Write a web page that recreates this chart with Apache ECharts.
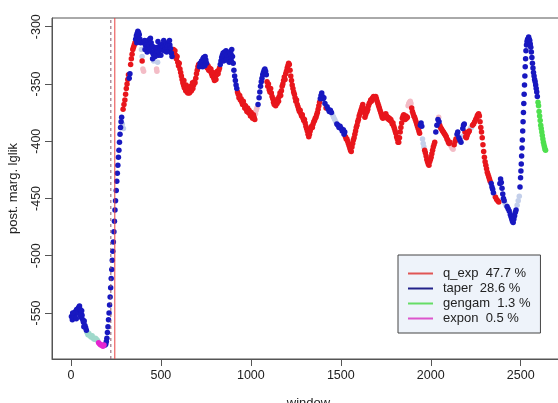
<!DOCTYPE html>
<html><head><meta charset="utf-8">
<script src="https://cdn.jsdelivr.net/npm/echarts@6/dist/echarts.min.js"></script>
<style>html,body{margin:0;padding:0;background:#fff}#c{width:558px;height:403px}</style>
</head><body><div id="c"></div>
<script>
// ---- data (window, post. marg. lglik) ----
var xTicks = [0, 500, 1000, 1500, 2000, 2500];
var yTicks = [-550, -500, -450, -400, -350, -300];
var yRange = [-590.2, -292.4];
var changepoints = [222, 244];
var legendNames = ['q_exp', 'taper', 'gengam', 'expon'];
var legendLabels = ['q_exp  47.7 %', 'taper  28.6 %', 'gengam  1.3 %', 'expon  0.5 %'];

var taper = [
[3,-553],[8,-556],[12,-554],[16,-551],[20,-553],[24,-549],[28,-550],[32,-547],[36,-549],[40,-546],[44,-545],[48,-544],[52,-547],[55,-551],[58,-554],[62,-552],[66,-556],[70,-558],[74,-557],[78,-561],[82,-563],[86,-565],
[10,-550],[30,-555],[50,-552],[60,-548],[72,-562],
[190,-578],[194,-577],[197,-575],[200,-572],[203,-567],[206,-562],[209,-556],[212,-550],[215,-543],[218,-536],[221,-528],[224,-520],[227,-512],[230,-504],[233,-496],[236,-488],[239,-479],[242,-470],[245,-460],[248,-452],[252,-443],[255,-435],[258,-428],[261,-421],[264,-414],[267,-408],[270,-401],[273,-394],[276,-388],[279,-383],[282,-379],
[324,-345],[328,-341],
[360,-311],[364,-308],[368,-306],[372,-304],[376,-305],[380,-307],[384,-311],[388,-314],[366,-314],[378,-312],
[406,-314],[410,-312],[414,-316],[418,-313],[422,-318],[426,-315],[430,-312],[434,-316],[438,-311],[442,-310],[446,-314],[450,-322],[454,-328],[458,-324],[462,-318],[466,-321],[470,-319],[474,-324],[478,-322],[482,-318],[486,-325],[490,-322],[494,-317],[498,-320],[502,-316],[506,-319],[510,-315],[514,-318],[518,-321],[522,-317],[526,-319],[530,-315],[534,-318],[538,-314],[542,-317],[546,-320],[550,-316],[554,-319],[558,-323],[562,-326],
[412,-320],[424,-322],[436,-320],[452,-317],[468,-326],[484,-313],[500,-325],[516,-312],[532,-322],[548,-312],
[714,-335],[718,-332],[722,-334],[726,-330],[730,-331],[734,-328],[738,-327],[742,-330],[746,-326],[750,-329],[754,-332],[732,-335],[744,-334],
[830,-333],[834,-330],[838,-327],[842,-325],[846,-323],[850,-326],[854,-322],[858,-325],[862,-321],[866,-324],[870,-327],[874,-323],[878,-326],[882,-322],[886,-328],[890,-324],[894,-320],[898,-326],[902,-332],[906,-338],[910,-343],[914,-347],[918,-351],[922,-354],
[848,-330],[864,-329],[880,-331],[892,-330],
[1040,-368],[1046,-362],[1050,-357],[1054,-352],[1058,-348],[1062,-345],[1066,-342],[1070,-340],[1074,-338],[1078,-337],[1082,-339],[1086,-342],
[1386,-363],[1390,-360],[1394,-358],[1398,-361],[1402,-363],[1406,-362],[1412,-367],
[1424,-370],[1430,-372],[1436,-374],[1442,-373],[1448,-375],
[1478,-385],[1484,-386],[1490,-388],[1496,-387],[1502,-389],[1508,-391],[1514,-390],[1518,-394],[1522,-392],
[1942,-386],[1946,-384],[1950,-387],
[2028,-392],[2034,-386],[2040,-381],[2046,-383],
[2146,-394],[2150,-392],[2156,-397],[2162,-399],[2168,-401],
[2178,-389],[2182,-386],[2186,-385],
[2336,-437],[2340,-440],[2344,-442],[2348,-445],
[2384,-437],[2388,-433],[2392,-436],[2396,-441],[2400,-446],[2404,-450],[2408,-452],
[2424,-457],[2430,-459],[2436,-461],[2442,-464],[2446,-466],[2450,-468],[2454,-470],[2458,-471],[2462,-468],[2466,-465],[2470,-462],[2474,-460],
[2496,-440],[2499,-432],[2501,-426],[2503,-420],[2505,-413],[2507,-406],[2509,-399],[2511,-391],[2513,-383],[2515,-375],[2517,-367],[2519,-359],[2521,-351],[2523,-343],[2525,-335],[2527,-328],[2529,-321],[2532,-316],[2535,-313],[2538,-311],[2541,-313],[2544,-309],[2547,-311],[2550,-312],[2553,-315],[2556,-318],[2559,-322],[2562,-327],[2565,-332],[2568,-336],[2571,-340],[2574,-343],[2577,-346],[2580,-348],[2583,-351],[2586,-354],[2589,-357],[2592,-361]
];

var qexp = [
[290,-372],[295,-368],[300,-364],[304,-359],[308,-354],[312,-350],[316,-346],[320,-342],
[332,-333],[336,-328],[340,-324],[344,-320],[348,-318],[352,-316],[356,-314],[396,-330],
[566,-322],[570,-320],[574,-324],[578,-321],[582,-325],[586,-328],[590,-326],[594,-331],[598,-334],[602,-332],[606,-337],[610,-340],[614,-343],[618,-346],[622,-349],[626,-351],[630,-353],[634,-354],[638,-356],[642,-355],[646,-357],[650,-358],[654,-356],[658,-358],[662,-357],[666,-355],[670,-356],[674,-353],[678,-354],[682,-351],[686,-348],[690,-349],[694,-345],[698,-341],[702,-338],[706,-335],[710,-333],
[628,-347],[640,-351],[652,-353],[664,-352],[676,-349],
[758,-336],[762,-334],[766,-338],[770,-336],[774,-339],[778,-337],[782,-341],[786,-343],[790,-340],[794,-345],[798,-347],[802,-344],[806,-346],[810,-342],[814,-339],[818,-341],[822,-338],[826,-336],
[926,-357],[930,-359],[934,-362],[938,-360],[942,-364],[946,-363],[950,-366],[954,-368],[958,-365],[962,-368],[966,-371],[970,-369],[974,-372],[978,-374],[982,-371],[986,-375],[990,-373],[994,-376],[998,-378],[1002,-375],[1006,-378],[1010,-380],[1014,-377],[1018,-379],[1022,-381],
[1090,-348],[1094,-352],[1098,-350],[1102,-355],[1106,-357],[1110,-354],[1114,-358],[1118,-361],[1122,-363],[1126,-366],[1130,-368],[1134,-366],[1138,-369],[1142,-365],[1146,-367],[1150,-363],[1154,-365],[1158,-361],[1162,-358],[1166,-360],[1170,-356],[1174,-352],[1178,-350],[1182,-347],[1186,-344],[1190,-346],[1194,-341],[1198,-339],[1202,-336],[1206,-334],[1210,-332],[1214,-333],[1218,-338],[1222,-343],[1226,-347],[1230,-351],[1234,-354],[1238,-357],[1242,-359],[1246,-362],[1250,-365],[1254,-364],[1258,-368],[1262,-370],[1266,-372],[1270,-374],[1274,-373],[1278,-376],[1282,-378],[1286,-377],[1290,-380],[1294,-382],[1298,-381],[1302,-384],[1306,-387],[1310,-389],[1314,-391],[1318,-394],[1322,-396],[1326,-394],[1330,-391],[1334,-389],[1338,-387],[1342,-388],[1346,-385],[1350,-383],[1354,-382],[1358,-380],[1362,-379],[1366,-377],[1370,-375],[1374,-372],[1378,-369],[1382,-366],
[1418,-371],[1526,-396],[1530,-398],
[1534,-398],[1538,-400],[1542,-402],[1546,-404],[1550,-406],[1554,-408],[1558,-409],[1562,-405],[1566,-402],[1570,-399],[1574,-397],[1578,-394],[1582,-391],[1586,-388],[1590,-386],[1594,-383],[1598,-381],[1602,-378],[1606,-376],[1610,-374],[1614,-372],[1618,-370],[1622,-368],[1626,-371],[1630,-375],[1634,-379],[1638,-377],[1642,-375],[1646,-374],[1650,-372],[1654,-369],[1658,-367],[1662,-366],[1666,-364],[1670,-365],[1674,-363],[1678,-362],[1682,-361],[1686,-363],[1690,-362],[1694,-361],[1698,-363],[1702,-365],[1706,-367],[1710,-369],[1714,-371],[1718,-373],[1722,-375],[1726,-377],[1730,-379],[1734,-380],[1738,-378],[1742,-379],[1746,-377],[1750,-376],[1754,-378],[1758,-380],[1762,-379],[1766,-381],[1770,-380],[1774,-382],[1778,-381],[1782,-383],[1786,-385],[1790,-384],[1794,-387],[1798,-389],[1802,-391],[1806,-393],[1810,-396],[1814,-398],[1818,-401],[1822,-401],[1826,-397],[1830,-392],[1834,-388],[1838,-384],[1842,-380],[1846,-378],[1850,-377],[1854,-379],[1858,-381],[1862,-378],[1866,-380],[1870,-379],
[1894,-371],[1898,-374],[1902,-376],[1906,-378],[1910,-379],[1914,-381],[1918,-383],[1922,-385],[1926,-387],[1930,-389],[1934,-391],[1938,-393],
[1966,-408],[1970,-410],[1974,-413],[1978,-416],[1982,-418],[1986,-420],[1990,-421],[1994,-418],[1998,-416],[2002,-414],[2006,-411],[2010,-408],[2014,-405],[2018,-403],[2022,-401],
[2050,-386],[2054,-388],[2058,-389],[2062,-390],[2066,-391],[2070,-392],[2074,-393],[2078,-394],[2082,-395],[2086,-396],[2090,-398],[2094,-399],[2098,-401],[2102,-402],[2106,-401],
[2130,-403],[2136,-400],[2140,-398],
[2190,-392],[2194,-396],[2198,-397],[2202,-395],[2206,-393],[2210,-392],[2214,-391],
[2232,-386],[2238,-385],[2244,-383],[2250,-381],[2254,-380],[2258,-378],[2262,-377],[2266,-376],[2270,-378],[2274,-383],[2278,-388],[2282,-392],[2286,-397],[2290,-403],[2294,-409],[2298,-414],[2302,-418],[2306,-421],[2310,-424],[2314,-427],[2318,-429],[2322,-431],[2326,-433],[2330,-435],
[2360,-449],[2366,-451],[2372,-452],[2378,-453]
];

var gengam = [
[2596,-366],[2599,-369],[2602,-374],[2605,-378],[2608,-382],[2611,-386],[2614,-389],[2617,-392],[2620,-395],[2623,-398],[2626,-401],[2629,-403],[2632,-405],[2635,-407],[2638,-408]
];

var expon = [
[154,-576],[160,-577],[166,-578],[172,-578],[178,-579],[184,-578]
];

// lower-probability windows (faded colours in the reference)
var qexpFaint = [
[400,-337],[404,-339],[476,-337],[478,-339],[1026,-376],[1030,-373],[1034,-371],
[1874,-369],[1878,-367],[1882,-366],[1886,-365],[1890,-367],[2044,-379],
[2112,-404],[2118,-406],[2124,-407],[2352,-446],[2356,-448]
];
var taperFaint = [
[286,-385],[292,-389],[392,-320],[396,-326],[460,-330],[482,-331],
[1454,-377],[1460,-379],[1466,-381],[1472,-383],[1954,-398],[1958,-402],[1962,-405],
[2174,-396],[2220,-389],[2226,-388],[2412,-454],[2418,-456],[2480,-456],[2486,-452],[2492,-448]
];
var otherFaint = [
[90,-567],[95,-569],[100,-568],[106,-570],[112,-571],[118,-570],[124,-572],[130,-573],[136,-572],[142,-573],[148,-574]
];

// ---- chart ----
var FONT = 'Liberation Sans, Arial, Helvetica, sans-serif';
var chart = echarts.init(document.getElementById('c'), null, {renderer: 'canvas'});
function sc(name, data, color, z) {
  return {type: 'scatter', name: name, data: data, symbolSize: 5.5, z: z || 2,
          itemStyle: {color: color, opacity: 1}, silent: true, animation: false};
}
function vline(name, x, color, type) {
  return {type: 'line', name: name, data: [[x, yRange[0]], [x, yRange[1]]], z: 5, silent: true,
          symbol: 'none', showSymbol: false, animation: false,
          lineStyle: {color: color, type: type, width: 1, opacity: 1},
          itemStyle: {color: color}};
}
var labelMap = {};
legendNames.forEach(function (n, i) { labelMap[n] = legendLabels[i]; });

var series = [
  sc('faintC', otherFaint, '#9fd9cb', 1),
  sc('faintR', qexpFaint, '#f3bcc6', 1),
  sc('faintB', taperFaint, '#c3cfea', 1),
  sc('q_exp', qexp, '#e8161c', 2),
  sc('taper', taper, '#1818c0', 3),
  sc('gengam', gengam, '#4ee04e', 3),
  sc('expon', expon, '#e426d0', 3),
  vline('cp1', changepoints[0], '#8a5a6e', [3, 3]),
  vline('cp2', changepoints[1], '#e84040', 'solid')
];
var legendColors = {'q_exp': '#e05555', 'taper': '#22228a', 'gengam': '#66dd66', 'expon': '#dd55cc'};

chart.setOption({
  animation: false,
  backgroundColor: '#ffffff',
  grid: {left: 52, top: 18, right: -7, bottom: 44, show: true, borderColor: '#555', borderWidth: 1,
         outerBoundsMode: 'none', containLabel: false},
  xAxis: {
    type: 'value', min: -105, max: 2746,
    name: 'window', nameLocation: 'middle', nameGap: 38,
    nameTextStyle: {fontFamily: FONT, fontSize: 13, color: '#222'},
    axisLine: {show: true, onZero: false, lineStyle: {color: '#555', width: 1}},
    axisTick: {show: true, length: 7, lineStyle: {color: '#555'}, customValues: xTicks},
    axisLabel: {fontFamily: FONT, fontSize: 12.5, color: '#222', margin: 10, customValues: xTicks,
                formatter: function (v) { return String(v); }},
    splitLine: {show: false}
  },
  yAxis: {
    type: 'value', min: yRange[0], max: yRange[1],
    name: 'post. marg. lglik', nameLocation: 'middle', nameGap: 32,
    nameTextStyle: {fontFamily: FONT, fontSize: 13, color: '#222'},
    axisLine: {show: true, onZero: false, lineStyle: {color: '#555', width: 1}},
    axisTick: {show: true, length: 7, lineStyle: {color: '#555'}, customValues: yTicks},
    axisLabel: {fontFamily: FONT, fontSize: 12.5, color: '#222', margin: 9, rotate: 90, customValues: yTicks,
                formatter: function (v) { return String(v); }},
    splitLine: {show: false}
  },
  legend: {
    data: legendNames.map(function (n) { return {name: n, itemStyle: {color: legendColors[n]}}; }),
    orient: 'vertical', left: 398, top: 255,
    icon: 'rect', itemWidth: 25, itemHeight: 2, itemGap: 0,
    padding: [11, 10, 7, 10],
    backgroundColor: '#eef3fa', borderColor: '#444', borderWidth: 1, borderRadius: 0,
    formatter: function (n) { return labelMap[n]; },
    textStyle: {fontFamily: FONT, fontSize: 13, color: '#222', lineHeight: 15, padding: [0, 0, 0, 5]},
    selectedMode: false
  },
  series: series
});
</script>
</body></html>
